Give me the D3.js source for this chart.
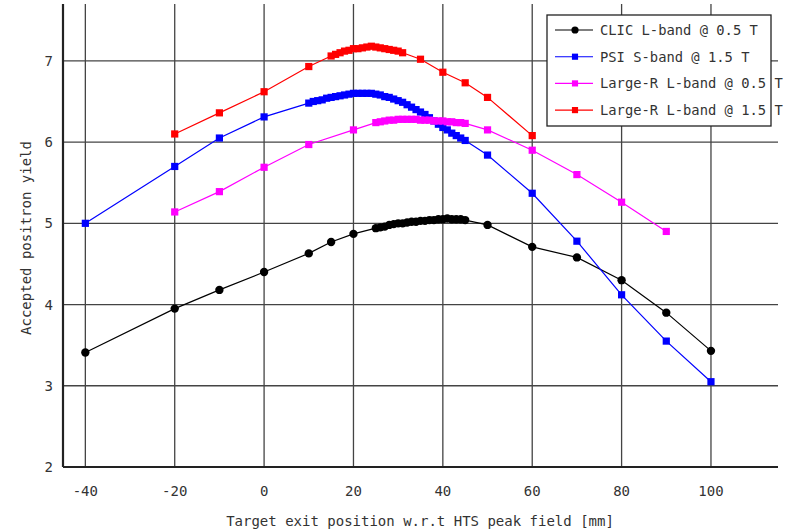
<!DOCTYPE html>
<html>
<head>
<meta charset="utf-8">
<script src="https://cdn.jsdelivr.net/npm/d3@7"></script>
<style>
  body { margin: 0; background: #fff; }
  text { font-family: "DejaVu Sans Mono", monospace; fill: #333; }
</style>
</head>
<body>
<div id="chart"></div>
<script>
// x positions [mm] and yields for each series
var clicX = [-40, -20, -10, 0, 10, 15, 20,
  25, 26, 27, 28, 29, 30, 31, 32, 33, 34, 35, 36, 37, 38, 39, 40, 41, 42, 43, 44, 45,
  50, 60, 70, 80, 90, 100];
var clicY = [3.41, 3.95, 4.18, 4.40, 4.63, 4.77, 4.87,
  4.94, 4.95, 4.96, 4.98, 4.99, 5.00, 5.00, 5.01, 5.02, 5.02, 5.03, 5.03, 5.04, 5.04, 5.05, 5.05, 5.06, 5.05, 5.05, 5.05, 5.04,
  4.98, 4.71, 4.58, 4.30, 3.90, 3.43];

var psiX = [-40, -20, -10, 0,
  10, 11, 12, 13, 14, 15, 16, 17, 18, 19, 20, 21, 22, 23, 24, 25, 26, 27, 28, 29,
  30, 31, 32, 33, 34, 35, 36, 37, 38, 39, 40, 41, 42, 43, 44, 45,
  50, 60, 70, 80, 90, 100];
var psiY = [5.00, 5.70, 6.05, 6.31,
  6.48, 6.50, 6.51, 6.52, 6.54, 6.55, 6.56, 6.57, 6.58, 6.59, 6.60, 6.60, 6.60, 6.60, 6.60, 6.59, 6.58, 6.56, 6.55, 6.53,
  6.51, 6.49, 6.46, 6.43, 6.40, 6.37, 6.34, 6.30, 6.26, 6.22, 6.18, 6.15, 6.11, 6.08, 6.05, 6.02,
  5.84, 5.37, 4.78, 4.12, 3.55, 3.05];

var lr05X = [-20, -10, 0, 10, 20,
  25, 26, 27, 28, 29, 30, 31, 32, 33, 34, 35, 36, 37, 38, 39, 40, 41, 42, 43, 44, 45,
  50, 60, 70, 80, 90];
var lr05Y = [5.14, 5.39, 5.69, 5.97, 6.15,
  6.24, 6.25, 6.26, 6.27, 6.27, 6.28, 6.28, 6.28, 6.28, 6.28, 6.27, 6.27, 6.27, 6.26, 6.26, 6.26, 6.25, 6.25, 6.24, 6.24, 6.23,
  6.15, 5.90, 5.60, 5.26, 4.90];

var lr15X = [-20, -10, 0, 10,
  15, 16, 17, 18, 19, 20, 21, 22, 23, 24, 25, 26, 27, 28, 29, 30, 31,
  35, 40, 45, 50, 60];
var lr15Y = [6.10, 6.36, 6.62, 6.93,
  7.06, 7.08, 7.10, 7.12, 7.13, 7.15, 7.15, 7.16, 7.17, 7.18, 7.17, 7.16, 7.15, 7.14, 7.13, 7.12, 7.10,
  7.02, 6.86, 6.73, 6.55, 6.08];

var seriesNames = ["CLIC L-band @ 0.5 T", "PSI S-band @ 1.5 T",
  "Large-R L-band @ 0.5 T", "Large-R L-band @ 1.5 T"];
var seriesColors = ["#000000", "#0000ff", "#ff00ff", "#ff0000"];
var xTicks = [-40, -20, 0, 20, 40, 60, 80, 100];
var yTicks = [2, 3, 4, 5, 6, 7];

var series = [
  {name: seriesNames[0], color: seriesColors[0], xs: clicX, ys: clicY, sym: d3.symbolCircle, size: 55},
  {name: seriesNames[1], color: seriesColors[1], xs: psiX, ys: psiY, sym: d3.symbolSquare, size: 52},
  {name: seriesNames[2], color: seriesColors[2], xs: lr05X, ys: lr05Y, sym: d3.symbolSquare, size: 52},
  {name: seriesNames[3], color: seriesColors[3], xs: lr15X, ys: lr15Y, sym: d3.symbolSquare, size: 52}
];

var W = 791, H = 531;
var svg = d3.select('#chart').append('svg').attr('width', W).attr('height', H);

var x = d3.scaleLinear().domain([-45, 115]).range([63, 778]);
var y = d3.scaleLinear().domain([2, 7.7]).range([467, 4]);

// grid
svg.append('g').selectAll('line').data(xTicks).enter().append('line')
  .attr('x1', d => x(d)).attr('x2', d => x(d))
  .attr('y1', y(7.7)).attr('y2', y(2))
  .attr('stroke', '#444').attr('stroke-width', 1.3);
svg.append('g').selectAll('line').data(yTicks).enter().append('line')
  .attr('x1', x(-45)).attr('x2', x(115))
  .attr('y1', d => y(d)).attr('y2', d => y(d))
  .attr('stroke', '#444').attr('stroke-width', 1.3);

// axes
svg.append('line').attr('x1', x(-45)).attr('x2', x(-45)).attr('y1', y(7.7)).attr('y2', y(2))
  .attr('stroke', '#222').attr('stroke-width', 2.2);
svg.append('line').attr('x1', x(-45)).attr('x2', x(115)).attr('y1', y(2)).attr('y2', y(2))
  .attr('stroke', '#222').attr('stroke-width', 2.2);

svg.append('g').selectAll('text').data(xTicks).enter().append('text')
  .attr('x', d => x(d)).attr('y', 496)
  .attr('text-anchor', 'middle').attr('font-size', 14)
  .text(d => d);
svg.append('g').selectAll('text').data(yTicks).enter().append('text')
  .attr('x', 53).attr('y', d => y(d) + 5)
  .attr('text-anchor', 'end').attr('font-size', 14)
  .text(d => d);

svg.append('text').attr('x', 420).attr('y', 526).attr('text-anchor', 'middle')
  .attr('font-size', 14).text('Target exit position w.r.t HTS peak field [mm]');
svg.append('text').attr('transform', 'translate(31,238) rotate(-90)')
  .attr('text-anchor', 'middle').attr('font-size', 14).text('Accepted positron yield');

// series
var line = d3.line().x(d => x(d[0])).y(d => y(d[1]));
series.forEach(function(s) {
  var pts = s.xs.map((v, i) => [v, s.ys[i]]);
  var g = svg.append('g');
  g.append('path').datum(pts).attr('d', line)
    .attr('fill', 'none').attr('stroke', s.color).attr('stroke-width', 1.2);
  g.selectAll('path.m').data(pts).enter().append('path').attr('class', 'm')
    .attr('d', d3.symbol().type(s.sym).size(s.size))
    .attr('transform', d => 'translate(' + x(d[0]) + ',' + y(d[1]) + ')')
    .attr('fill', s.color);
});

// legend
var leg = svg.append('g');
leg.append('rect').attr('x', 547).attr('y', 15).attr('width', 224).attr('height', 111)
  .attr('fill', '#fff').attr('stroke', '#222').attr('stroke-width', 1.3);
series.forEach(function(s, i) {
  var ly = 30 + i * 26.7;
  leg.append('line').attr('x1', 555).attr('x2', 593).attr('y1', ly).attr('y2', ly)
    .attr('stroke', s.color).attr('stroke-width', 1.1);
  leg.append('path').attr('d', d3.symbol().type(s.sym).size(s.size - 14))
    .attr('transform', 'translate(575,' + ly + ')').attr('fill', s.color);
  leg.append('text').attr('x', 600).attr('y', ly + 5).attr('font-size', 13.8).text(s.name);
});
</script>
</body>
</html>
